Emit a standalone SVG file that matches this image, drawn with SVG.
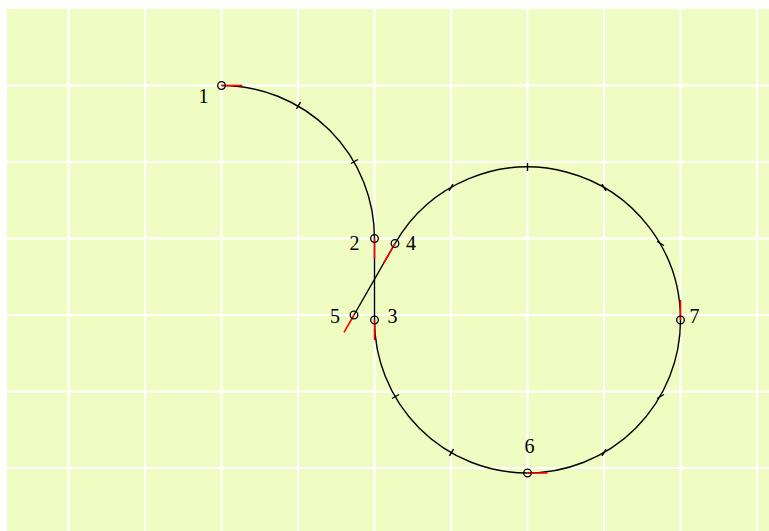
<svg xmlns="http://www.w3.org/2000/svg" width="769" height="531" viewBox="0 0 769 531">
  <style>
    .grid { stroke: #ffffff; stroke-width: 2; }
    .curve { fill: none; stroke: #000000; stroke-width: 1.4; }
    .tick { stroke: #000000; stroke-width: 1.4; }
    .tan { stroke: #ff0000; stroke-width: 1.6; }
    .pt { fill: none; stroke: #000000; stroke-width: 1.3; }
    .lbl { font-family: "Liberation Serif", "Times New Roman", serif; font-size: 20px; fill: #000000; text-anchor: middle; }
  </style>
  <rect x="0" y="0" width="769" height="531" fill="#ffffff"/>
  <rect x="7" y="9" width="762" height="522" fill="#EEFCC2"/>
  <g id="grid" class="grid">
    <line x1="68.5" y1="9" x2="68.5" y2="531"/>
    <line x1="145" y1="9" x2="145" y2="531"/>
    <line x1="221.5" y1="9" x2="221.5" y2="531"/>
    <line x1="298" y1="9" x2="298" y2="531"/>
    <line x1="374.5" y1="9" x2="374.5" y2="531"/>
    <line x1="451" y1="9" x2="451" y2="531"/>
    <line x1="527.5" y1="9" x2="527.5" y2="531"/>
    <line x1="604" y1="9" x2="604" y2="531"/>
    <line x1="680.5" y1="9" x2="680.5" y2="531"/>
    <line x1="757" y1="9" x2="757" y2="531"/>
    <line x1="7" y1="85.5" x2="769" y2="85.5"/>
    <line x1="7" y1="162" x2="769" y2="162"/>
    <line x1="7" y1="238.5" x2="769" y2="238.5"/>
    <line x1="7" y1="315" x2="769" y2="315"/>
    <line x1="7" y1="391.5" x2="769" y2="391.5"/>
    <line x1="7" y1="468" x2="769" y2="468"/>
  </g>
  <g id="connectors">
    <path class="curve" d="M221.5,85.5 A153,153 0 0 1 374.5,238.5"/>
    <path class="curve" d="M374.5,238.5 L374.5,320"/>
    <path class="curve" d="M374.5,320 A153,153 0 0 0 527.5,473"/>
    <path class="curve" d="M527.5,473 A153,153 0 0 0 680.5,320"/>
    <path class="curve" d="M680.5,320 A153,153 0 0 0 395,243.5"/>
    <path class="curve" d="M395,243.5 L354,315"/>
    <g id="ticks" class="tick">
      <line x1="296.5" y1="108.96" x2="300.5" y2="102.04"/>
      <line x1="351.04" y1="163.5" x2="357.96" y2="159.5"/>
      <line x1="392.04" y1="398.5" x2="398.96" y2="394.5"/>
      <line x1="449.5" y1="455.96" x2="453.5" y2="449.04"/>
      <line x1="602" y1="455.96" x2="606" y2="449.04"/>
      <line x1="657.04" y1="398.5" x2="663.96" y2="394.5"/>
      <line x1="657.04" y1="241.5" x2="663.96" y2="245.5"/>
      <line x1="602" y1="184.04" x2="606" y2="190.96"/>
      <line x1="527.5" y1="163" x2="527.5" y2="171"/>
      <line x1="449" y1="190.96" x2="453" y2="184.04"/>
    </g>
    <g id="tangents" class="tan">
      <line x1="221.5" y1="85.5" x2="242.5" y2="85.5"/>
      <line x1="374.5" y1="238.5" x2="374.5" y2="259"/>
      <line x1="374.5" y1="320" x2="374.5" y2="340"/>
      <line x1="395" y1="243.5" x2="384" y2="262.5"/>
      <line x1="354" y1="315" x2="344" y2="332.3"/>
      <line x1="527.5" y1="473" x2="547.5" y2="473"/>
      <line x1="680.5" y1="320" x2="680.5" y2="300"/>
    </g>
  </g>
  <g id="n1"><circle class="pt" cx="221.5" cy="85.5" r="3.8"/><text class="lbl" x="203.5" y="103">1</text></g>
  <g id="n2"><circle class="pt" cx="374.5" cy="238.5" r="3.8"/><text class="lbl" x="354.5" y="250">2</text></g>
  <g id="n3"><circle class="pt" cx="374.5" cy="320" r="3.8"/><text class="lbl" x="392.5" y="323">3</text></g>
  <g id="n4"><circle class="pt" cx="395" cy="243.5" r="3.8"/><text class="lbl" x="411" y="250">4</text></g>
  <g id="n5"><circle class="pt" cx="354" cy="315" r="3.8"/><text class="lbl" x="335" y="323">5</text></g>
  <g id="n6"><circle class="pt" cx="527.5" cy="473" r="3.8"/><text class="lbl" x="529.5" y="453">6</text></g>
  <g id="n7"><circle class="pt" cx="680.5" cy="320" r="3.8"/><text class="lbl" x="694.5" y="323">7</text></g>
</svg>
